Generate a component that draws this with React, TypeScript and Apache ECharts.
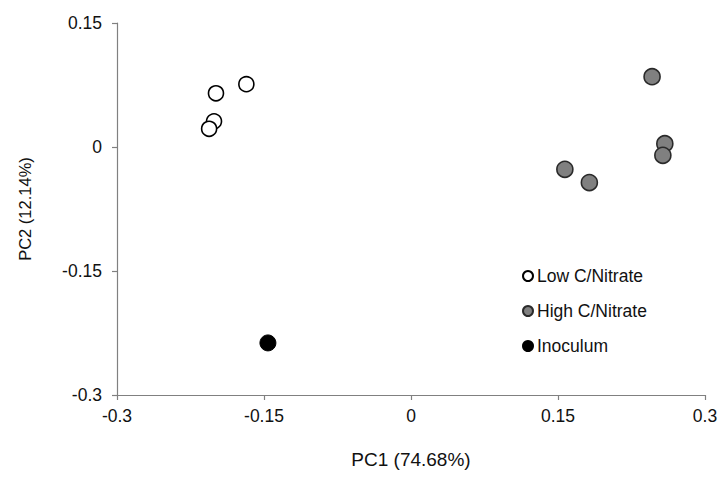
import React, { useEffect, useRef } from "react";
import * as echarts from "echarts";

const seriesNames = ["Low C/Nitrate", "High C/Nitrate", "Inoculum"];
const lowCNitrate: number[][] = [
  [-0.199, 0.065],
  [-0.168, 0.076],
  [-0.201, 0.031],
  [-0.206, 0.022],
];
const highCNitrate: number[][] = [
  [0.246, 0.085],
  [0.259, 0.004],
  [0.257, -0.01],
  [0.157, -0.027],
  [0.182, -0.043],
];
const inoculum: number[][] = [[-0.146, -0.237]];
const xTicks = { min: -0.3, max: 0.3, interval: 0.15 };
const yTicks = { min: -0.3, max: 0.15, interval: 0.15 };

const fmt = (v: number) => String(+v.toFixed(2));
const FONT = "'Liberation Sans', Arial, sans-serif";

export default function App() {
  const ref = useRef<HTMLDivElement>(null);
  useEffect(() => {
    if (!ref.current) return;
    const chart = echarts.init(ref.current, null, { renderer: "svg" });
    const axisCommon = {
      type: "value" as const,
      nameLocation: "middle" as const,
      axisLine: { show: true, onZero: false, lineStyle: { color: "#808080", width: 1.2 } },
      axisTick: { show: true, inside: false, length: 5, lineStyle: { color: "#808080", width: 1.2 } },
      splitLine: { show: false },
    };
    chart.setOption({
      animation: false,
      backgroundColor: "#ffffff",
      textStyle: { fontFamily: FONT },
      grid: { left: 117, right: 20, top: 23, bottom: 89, containLabel: false },
      legend: {
        orient: "vertical",
        left: 517,
        top: 262,
        itemWidth: 10,
        itemHeight: 10,
        itemGap: 17,
        icon: "circle",
        textStyle: { fontFamily: FONT, fontSize: 17.5, color: "#111", padding: [0, 0, 0, -1] },
        data: seriesNames,
      },
      xAxis: {
        ...axisCommon,
        min: xTicks.min,
        max: xTicks.max,
        interval: xTicks.interval,
        name: "PC1 (74.68%)",
        nameGap: 55,
        nameTextStyle: { fontFamily: FONT, fontSize: 19, color: "#111" },
        axisLabel: { formatter: fmt, fontFamily: FONT, fontSize: 17.5, color: "#111", margin: 12 },
      },
      yAxis: {
        ...axisCommon,
        min: yTicks.min,
        max: yTicks.max,
        interval: yTicks.interval,
        name: "PC2 (12.14%)",
        nameGap: 84,
        nameTextStyle: { fontFamily: FONT, fontSize: 16.5, color: "#111" },
        axisLabel: { formatter: fmt, fontFamily: FONT, fontSize: 17.5, color: "#111", margin: 15 },
      },
      series: [
        {
          name: seriesNames[0],
          type: "scatter",
          symbol: "circle",
          symbolSize: 15,
          data: lowCNitrate,
          itemStyle: { color: "#ffffff", borderColor: "#000000", borderWidth: 1.6, opacity: 1 },
        },
        {
          name: seriesNames[1],
          type: "scatter",
          symbol: "circle",
          symbolSize: 16,
          data: highCNitrate,
          itemStyle: { color: "#808080", borderColor: "#2a2a2a", borderWidth: 1.6, opacity: 1 },
        },
        {
          name: seriesNames[2],
          type: "scatter",
          symbol: "circle",
          symbolSize: 16,
          data: inoculum,
          itemStyle: { color: "#000000", borderColor: "#000000", borderWidth: 1, opacity: 1 },
        },
      ],
    });
    return () => chart.dispose();
  }, []);
  return <div ref={ref} style={{ width: 725, height: 484, position: "absolute", left: 0, top: 0 }} />;
}
